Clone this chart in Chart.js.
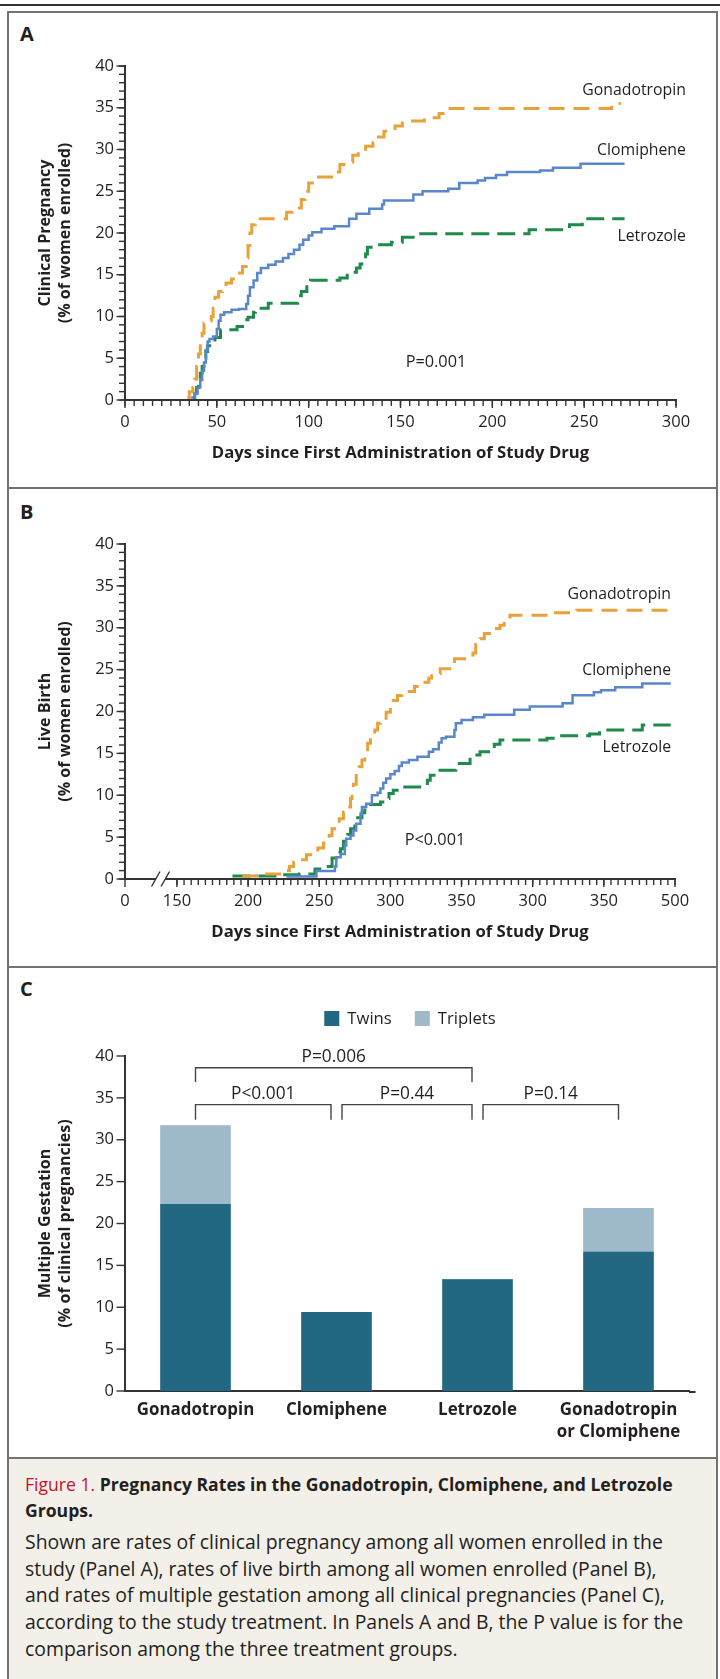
<!DOCTYPE html>
<html>
<head>
<meta charset="utf-8">
<script src="https://cdn.jsdelivr.net/npm/chart.js@4.4.1/dist/chart.umd.min.js"></script>
<style>
body { margin: 0; width: 720px; height: 1679px; background: #fff; position: relative; overflow: hidden; font-family: "Open Sans", Lato, sans-serif; color: #231f20; }
#rule { position: absolute; left: 0; top: 4px; width: 720px; height: 2px; background: #333; }
#frame { position: absolute; left: 7px; top: 11px; width: 711px; height: 1668px; box-sizing: border-box; border: 2px solid #737373; border-bottom: none; }
.divider { position: absolute; left: 7px; width: 711px; height: 2px; background: #737373; }
.plabel { position: absolute; left: 20px; font-weight: bold; font-size: 20px; line-height: 20px; }
canvas { position: absolute; }
#caption { position: absolute; left: 9px; top: 1459px; width: 707px; height: 220px; background: #f3f0e9; }
#capTitle { position: absolute; left: 16px; top: 13.1px; font-size: 17.6px; line-height: 25.5px; font-weight: bold; white-space: nowrap; }
#capTitle .fig { color: #c8102e; font-weight: normal; }
#capBody { position: absolute; left: 16px; top: 70.1px; font-size: 19.4px; line-height: 26.67px; white-space: nowrap; }
</style>
</head>
<body>
<div id="rule"></div>
<div id="frame"></div>
<div class="divider" style="top:487px"></div>
<div class="divider" style="top:966px"></div>
<div class="divider" style="top:1457px"></div>

<div class="plabel" style="top:24px">A</div>
<div class="plabel" style="top:501.5px">B</div>
<div class="plabel" style="top:979px">C</div>

<canvas id="chartA" width="705" height="472" style="left:10px; top:14px"></canvas>
<canvas id="chartB" width="705" height="475" style="left:10px; top:490px"></canvas>
<canvas id="chartC" width="705" height="488" style="left:10px; top:969px"></canvas>

<div id="caption">
  <div id="capTitle"><span class="fig">Figure 1.</span> Pregnancy Rates in the Gonadotropin, Clomiphene, and Letrozole<br>Groups.</div>
  <div id="capBody">Shown are rates of clinical pregnancy among all women enrolled in the<br>study (Panel A), rates of live birth among all women enrolled (Panel B),<br>and rates of multiple gestation among all clinical pregnancies (Panel C),<br>according to the study treatment. In Panels A and B, the P value is for the<br>comparison among the three treatment groups.</div>
</div>

<script>
var FONT = "'Open Sans', Lato, sans-serif";
var TEXT = '#231f20';
var AXIS = '#333333';
var GONA = '#e9a23b';
var CLOM = '#5a86cc';
var LETR = '#1f8a4c';

// Panel A: clinical pregnancy, cumulative % by day (step points)
var a_gona_days = [34, 35, 37, 38, 39, 40, 41, 42, 43, 45, 47, 48, 49, 51, 53, 55, 58, 61, 64, 66, 67, 68, 69, 71, 88, 91, 96, 98, 100, 102, 115, 117, 121, 124, 127, 131, 135, 138, 141, 147, 151, 163, 171, 176, 265, 270];
var a_gona_vals = [0.3, 1.0, 1.5, 2.5, 4.0, 5.5, 7.0, 8.0, 9.2, 9.5, 10.0, 11.0, 12.3, 13.0, 13.5, 14.0, 14.5, 15.2, 16.0, 17.0, 18.5, 20.0, 21.0, 21.7, 22.5, 23.0, 24.0, 25.0, 26.0, 26.7, 27.3, 28.2, 28.5, 29.3, 29.8, 30.4, 30.8, 31.5, 32.2, 32.8, 33.4, 33.8, 34.3, 34.9, 35.5, 35.5];
var a_clom_days = [36, 38, 39.5, 41, 42, 43, 44, 45, 46, 48, 50, 51, 52, 54, 58, 62, 66, 67, 68, 70, 72, 74, 78, 82, 86, 89, 92, 95, 97, 100, 102, 107, 114, 122, 126, 133, 140, 141, 157, 162, 176, 182, 192, 196, 202, 208, 226, 233, 248, 272];
var a_clom_vals = [0.3, 0.8, 1.5, 2.4, 3.5, 4.5, 6.0, 7.0, 7.3, 7.6, 8.5, 9.5, 10.2, 10.5, 10.8, 10.9, 11.5, 12.5, 13.5, 14.3, 15.2, 15.8, 16.2, 16.6, 17.0, 17.5, 18.0, 18.6, 19.2, 19.7, 20.1, 20.5, 20.8, 21.7, 22.3, 22.9, 23.4, 23.9, 24.6, 25.0, 25.3, 26.0, 26.3, 26.6, 26.95, 27.3, 27.5, 27.8, 28.3, 28.3];
var a_letr_days = [37, 38, 39, 40, 41, 42, 43, 44, 45, 47, 49, 52, 61, 64, 67, 70, 71, 78, 94, 96, 99, 101, 117, 121, 126, 128, 131, 132, 134, 145, 151, 160, 220, 242, 249, 272];
var a_letr_vals = [0.3, 0.8, 1.5, 2.3, 3.2, 4.0, 5.0, 5.8, 6.5, 7.0, 7.5, 8.4, 8.8, 9.6, 9.9, 10.5, 11.0, 11.6, 12.5, 13.0, 13.8, 14.35, 14.6, 15.3, 15.8, 16.3, 17.5, 18.3, 18.6, 18.9, 19.5, 19.9, 20.4, 21.0, 21.7, 21.7];

// Panel B: live birth, cumulative % by day (step points)
var b_gona_days = [196, 206, 224, 226, 229, 232, 234, 241, 249, 253, 257, 259, 262, 264, 267, 270, 272, 273, 274, 276, 278, 280, 282, 284, 286, 289, 291, 293, 297, 300, 302, 305, 308, 317, 320, 327, 329, 335, 345, 358, 360, 363, 366, 372, 377, 380, 384, 411, 431, 497];
var b_gona_vals = [0.35, 0.6, 0.8, 1.0, 1.5, 2.0, 2.3, 2.9, 3.7, 4.3, 5.2, 6.0, 6.6, 7.2, 8.0, 8.6, 9.6, 10.6, 11.3, 12.6, 13.4, 14.2, 15.2, 16.2, 17.0, 17.8, 18.6, 19.2, 19.9, 20.6, 21.3, 21.9, 22.4, 23.0, 23.5, 24.0, 24.5, 25.1, 26.3, 27.0, 28.0, 28.7, 29.3, 29.9, 30.3, 31.0, 31.5, 31.8, 32.1, 32.1];
var b_clom_days = [227, 248, 261, 262, 265, 268, 269, 272, 274, 276, 279, 280, 283, 287, 291, 293, 295, 297, 300, 303, 306, 308, 313, 319, 327, 330, 334, 336, 339, 345, 346, 350, 358, 366, 387, 398, 421, 428, 443, 448, 458, 477, 497];
var b_clom_vals = [0.3, 0.95, 1.5, 2.6, 3.0, 4.0, 4.8, 5.2, 5.8, 6.6, 7.8, 8.6, 9.0, 10.0, 10.3, 10.8, 11.5, 12.0, 12.5, 12.9, 13.5, 13.9, 14.2, 14.6, 15.2, 15.5, 16.3, 16.8, 17.0, 17.8, 18.6, 19.0, 19.3, 19.6, 20.2, 20.6, 21.0, 21.95, 22.3, 22.55, 22.9, 23.35, 23.35];
var b_letr_days = [189, 224, 236, 247, 254, 259, 262, 265, 267, 270, 272, 275, 277, 280, 282, 286, 293, 297, 299, 302, 308, 326, 328, 332, 346, 356, 363, 371, 373, 377, 410, 416, 440, 447, 477, 497];
var b_letr_vals = [0.35, 0.5, 0.6, 1.2, 1.5, 2.5, 3.2, 3.6, 4.5, 5.3, 6.0, 6.6, 7.3, 7.9, 8.6, 8.9, 9.2, 9.6, 10.2, 10.6, 11.0, 11.8, 12.4, 13.0, 13.8, 14.8, 15.2, 15.6, 16.1, 16.6, 16.8, 17.1, 17.3, 17.8, 18.4, 18.4];

// Panel B axis is broken: "0" sits at the left edge, the rest starts at 150
var b_axis_start = 113.5;
var b_break_at = 138.45;
var b_tick_values = [113.5, 150, 200, 250, 300, 350, 400, 450, 500];
var b_tick_labels = ['0', '150', '200', '250', '300', '350', '300', '350', '500'];

// Panel C: multiple gestation, % of clinical pregnancies
var c_groups = ['Gonadotropin', 'Clomiphene', 'Letrozole', ['Gonadotropin', 'or Clomiphene']];
var c_twins = [22.3, 9.4, 13.3, 16.6];
var c_triplets = [9.4, 0, 0, 5.2];
var c_brackets = [[0, 1], [1, 2], [2, 3], [0, 2]];
var c_pvalues = ['P<0.001', 'P=0.44', 'P=0.14', 'P=0.006'];

Chart.defaults.font.family = FONT;
Chart.defaults.font.size = 16;
Chart.defaults.color = TEXT;
Chart.defaults.animation = false;

function range(from, to, step) {
    var out = [];
    for (var v = from; v <= to + 1e-9; v += step) out.push(v);
    return out;
}
function points(days, vals) {
    return days.map(function (d, i) { return { x: d, y: vals[i] }; });
}
function curve(label, days, vals, color, dash) {
    return {
        label: label,
        data: points(days, vals),
        borderColor: color,
        borderWidth: dash ? 3 : 2.5,
        borderDash: dash || [],
        borderCapStyle: 'butt',
        stepped: true,
        pointRadius: 0,
        fill: false
    };
}

// tick marks: majors from the scale, minors from a list
var tickMarks = {
    id: 'tickMarks',
    afterDraw: function (chart, args, opts) {
        var ctx = chart.ctx;
        var area = chart.chartArea;
        ctx.save();
        ctx.strokeStyle = AXIS;
        ctx.lineWidth = 1.4;
        function mark(scale, values, len) {
            values.forEach(function (v) {
                var p = scale.getPixelForValue(v);
                ctx.beginPath();
                if (scale.isHorizontal()) {
                    ctx.moveTo(p, area.bottom);
                    ctx.lineTo(p, area.bottom + len);
                } else {
                    ctx.moveTo(area.left, p);
                    ctx.lineTo(area.left - len, p);
                }
                ctx.stroke();
            });
        }
        var ticksOf = function (s) { return s.ticks.map(function (t) { return t.value; }); };
        if (opts.xMinor) mark(chart.scales.x, opts.xMinor, 6);
        if (opts.xMajor) mark(chart.scales.x, ticksOf(chart.scales.x), 8);
        if (opts.yMinor) mark(chart.scales.y, opts.yMinor, 6);
        mark(chart.scales.y, ticksOf(chart.scales.y), 8.5);
        if (opts.xExtend) {
            ctx.lineWidth = 2;
            ctx.beginPath();
            ctx.moveTo(area.right, area.bottom + 1);
            ctx.lineTo(area.right + opts.xExtend, area.bottom + 1);
            ctx.stroke();
        }
        ctx.restore();
    }
};

// free text placed in data coordinates
var textNotes = {
    id: 'textNotes',
    afterDraw: function (chart, args, opts) {
        var ctx = chart.ctx;
        ctx.save();
        ctx.fillStyle = TEXT;
        ctx.textBaseline = 'alphabetic';
        (opts.items || []).forEach(function (it) {
            ctx.font = (it.size || 16) + 'px ' + FONT;
            ctx.textAlign = it.align || 'left';
            ctx.fillText(it.text, chart.scales.x.getPixelForValue(it.x), chart.scales.y.getPixelForValue(it.y));
        });
        ctx.restore();
    }
};

var axisBreak = {
    id: 'axisBreak',
    afterDraw: function (chart, args, opts) {
        var ctx = chart.ctx;
        var y = chart.chartArea.bottom;
        var x = chart.scales.x.getPixelForValue(opts.at);
        ctx.save();
        ctx.fillStyle = '#fff';
        ctx.fillRect(x - 4.5, y - 2, 9, 4);
        ctx.strokeStyle = AXIS;
        ctx.lineWidth = 1.4;
        [-4.75, 4.75].forEach(function (dx) {
            ctx.beginPath();
            ctx.moveTo(x + dx - 4.25, y + 7.5);
            ctx.lineTo(x + dx + 4.25, y - 7.5);
            ctx.stroke();
        });
        ctx.restore();
    }
};

var groupLegend = {
    id: 'groupLegend',
    afterDraw: function (chart, args, opts) {
        var ctx = chart.ctx;
        var area = chart.chartArea;
        ctx.save();
        ctx.font = opts.size + 'px ' + FONT;
        ctx.textAlign = 'left';
        ctx.textBaseline = 'alphabetic';
        var items = chart.data.datasets.map(function (ds) {
            return { label: ds.label, color: ds.backgroundColor, w: ctx.measureText(ds.label).width };
        });
        var total = items.reduce(function (s, it) { return s + opts.box + opts.gap + it.w; }, 0) + opts.spacing * (items.length - 1);
        var x = (area.left + area.right) / 2 - total / 2 + opts.shift;
        var top = area.top - opts.offset;
        items.forEach(function (it) {
            ctx.fillStyle = it.color;
            ctx.fillRect(x, top, opts.box, opts.box);
            ctx.fillStyle = TEXT;
            ctx.fillText(it.label, x + opts.box + opts.gap, top + opts.box - 2);
            x += opts.box + opts.gap + it.w + opts.spacing;
        });
        ctx.restore();
    }
};

var pBrackets = {
    id: 'pBrackets',
    afterDraw: function (chart, args, opts) {
        var ctx = chart.ctx;
        var xs = chart.scales.x, ys = chart.scales.y;
        var last = chart.data.labels.length - 1;
        function inset(k, dir) { return (k === 0 || k === last) ? 0 : dir * opts.inset; }
        ctx.save();
        ctx.strokeStyle = '#444';
        ctx.lineWidth = 1.4;
        ctx.fillStyle = TEXT;
        ctx.font = opts.size + 'px ' + FONT;
        ctx.textAlign = 'center';
        ctx.textBaseline = 'alphabetic';
        c_brackets.forEach(function (pair, i) {
            var lvl = opts.levels[i];
            var x1 = xs.getPixelForValue(pair[0]) + inset(pair[0], 1);
            var x2 = xs.getPixelForValue(pair[1]) + inset(pair[1], -1);
            var yTop = ys.getPixelForValue(lvl[0]);
            var yLeg = ys.getPixelForValue(lvl[1]);
            ctx.beginPath();
            ctx.moveTo(x1, yLeg);
            ctx.lineTo(x1, yTop);
            ctx.lineTo(x2, yTop);
            ctx.lineTo(x2, yLeg);
            ctx.stroke();
            ctx.fillText(c_pvalues[i], (x1 + x2) / 2, yTop - opts.textGap);
        });
        ctx.restore();
    }
};

function yAxis(title) {
    return {
        type: 'linear', min: 0, max: 40,
        afterFit: function (s) { s.width = 115; },
        ticks: { stepSize: 5, padding: 3, font: { size: 16.5 } },
        grid: { display: false, drawTicks: true, tickLength: 8 },
        border: { display: true, color: AXIS, width: 2 },
        title: { display: true, text: title, font: { size: 16.1, weight: 'bold', lineHeight: 1.267 }, padding: { top: 24.8, bottom: 0 } }
    };
}
var xTitle = 'Days since First Administration of Study Drug';

new Chart(document.getElementById('chartA'), {
    type: 'line',
    data: {
        datasets: [
            curve('Clomiphene', a_clom_days, a_clom_vals, CLOM, null),
            curve('Gonadotropin', a_gona_days, a_gona_vals, GONA, [16, 9]),
            curve('Letrozole', a_letr_days, a_letr_vals, LETR, [18, 8])
        ]
    },
    options: {
        responsive: false,
        devicePixelRatio: 1,
        layout: { padding: { left: 0, right: 39, top: 52, bottom: 0 } },
        plugins: {
            legend: { display: false },
            tooltip: { enabled: false },
            tickMarks: { xMinor: range(0, 300, 5), xMajor: true, yMinor: range(0, 40, 1) },
            textNotes: {
                items: [
                    { text: 'Gonadotropin', x: 305.4, y: 36.5, align: 'right', size: 15.8 },
                    { text: 'Clomiphene', x: 305.4, y: 29.3, align: 'right', size: 15.8 },
                    { text: 'Letrozole', x: 305.4, y: 19.05, align: 'right', size: 15.8 },
                    { text: 'P=0.001', x: 169.3, y: 4.0, align: 'center', size: 16.3 }
                ]
            }
        },
        scales: {
            x: {
                type: 'linear', min: 0, max: 300,
                afterFit: function (s) { s.height = 86; },
                ticks: { stepSize: 50, padding: 4, maxRotation: 0, font: { size: 16.5 } },
                grid: { display: false, drawTicks: true, tickLength: 8 },
                border: { display: true, color: AXIS, width: 2 },
                title: { display: true, text: xTitle, font: { size: 16.7, weight: 'bold' }, padding: { top: 0, bottom: 23 } }
            },
            y: yAxis(['Clinical Pregnancy', '(% of women enrolled)'])
        }
    },
    plugins: [tickMarks, textNotes]
});

new Chart(document.getElementById('chartB'), {
    type: 'line',
    data: {
        datasets: [
            curve('Clomiphene', b_clom_days, b_clom_vals, CLOM, null),
            curve('Gonadotropin', b_gona_days, b_gona_vals, GONA, [16, 9]),
            curve('Letrozole', b_letr_days, b_letr_vals, LETR, [18, 8])
        ]
    },
    options: {
        responsive: false,
        devicePixelRatio: 1,
        layout: { padding: { left: 0, right: 40, top: 54, bottom: 0 } },
        plugins: {
            legend: { display: false },
            tooltip: { enabled: false },
            tickMarks: { xMinor: range(150, 500, 5), xMajor: true, yMinor: range(0, 40, 1) },
            axisBreak: { at: b_break_at },
            textNotes: {
                items: [
                    { text: 'Gonadotropin', x: 497.2, y: 33.4, align: 'right', size: 15.8 },
                    { text: 'Clomiphene', x: 497.2, y: 24.3, align: 'right', size: 15.8 },
                    { text: 'Letrozole', x: 497.2, y: 15.2, align: 'right', size: 15.8 },
                    { text: 'P<0.001', x: 331.3, y: 4.06, align: 'center', size: 16.3 }
                ]
            }
        },
        scales: {
            x: {
                type: 'linear', min: b_axis_start, max: 500,
                afterBuildTicks: function (s) { s.ticks = b_tick_values.map(function (v) { return { value: v }; }); },
                afterFit: function (s) { s.height = 86; },
                ticks: {
                    autoSkip: false, padding: 4, maxRotation: 0, font: { size: 16.5 },
                    callback: function (v, i) { return b_tick_labels[i]; }
                },
                grid: { display: false, drawTicks: true, tickLength: 8 },
                border: { display: true, color: AXIS, width: 2 },
                title: { display: true, text: xTitle, font: { size: 16.7, weight: 'bold' }, padding: { top: 0, bottom: 23 } }
            },
            y: yAxis(['Live Birth', '(% of women enrolled)'])
        }
    },
    plugins: [tickMarks, axisBreak, textNotes]
});

new Chart(document.getElementById('chartC'), {
    type: 'bar',
    data: {
        labels: c_groups,
        datasets: [
            { label: 'Twins', data: c_twins, backgroundColor: '#236882', barThickness: 70, borderWidth: 0 },
            { label: 'Triplets', data: c_triplets, backgroundColor: '#9db9ca', barThickness: 70, borderWidth: 0 }
        ]
    },
    options: {
        responsive: false,
        devicePixelRatio: 1,
        layout: { padding: { left: 0, right: 26, top: 87, bottom: 0 } },
        plugins: {
            legend: { display: false },
            tooltip: { enabled: false },
            tickMarks: { xExtend: 6.6 },
            groupLegend: { box: 15, gap: 8, spacing: 23, offset: 45, size: 16.7, shift: 3 },
            pBrackets: { levels: [[34.2, 32.4], [34.2, 32.4], [34.2, 32.4], [38.6, 36.9]], inset: 5.5, textGap: 5.6, size: 17.3 }
        },
        scales: {
            x: {
                stacked: true,
                afterFit: function (s) { s.height = 66; },
                ticks: { padding: 8, maxRotation: 0, autoSkip: false, font: { size: 16.9, weight: 'bold', lineHeight: 1.3 } },
                grid: { display: false, drawTicks: false },
                border: { display: true, color: AXIS, width: 2 }
            },
            y: Object.assign(yAxis(['Multiple Gestation', '(% of clinical pregnancies)']), { stacked: true })
        }
    },
    plugins: [tickMarks, groupLegend, pBrackets]
});
</script>
</body>
</html>
